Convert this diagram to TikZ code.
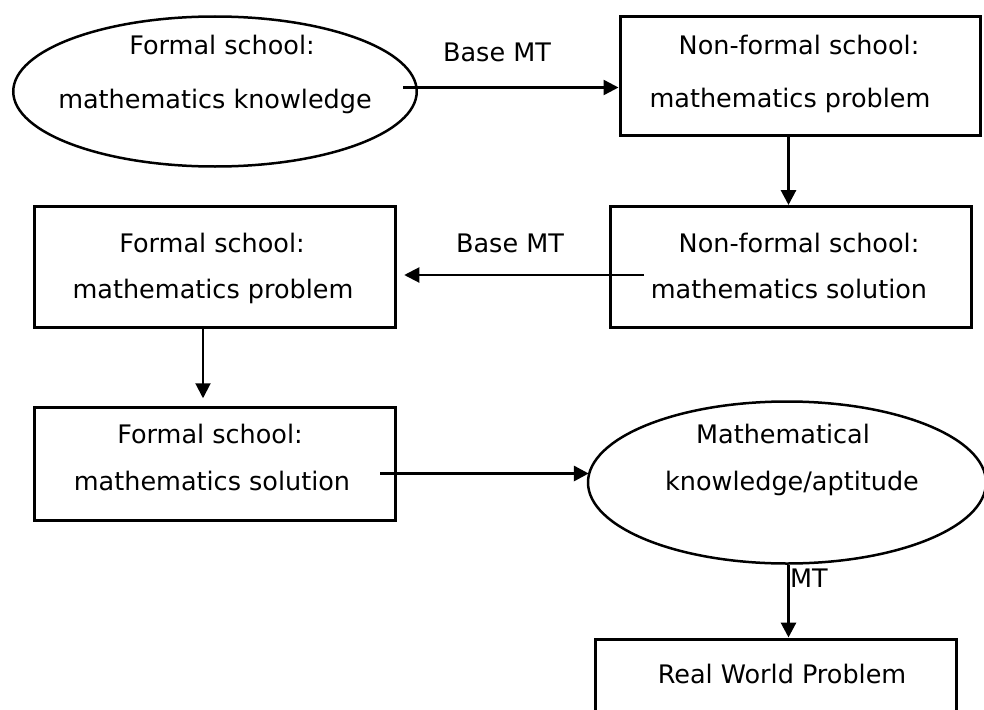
\documentclass[tikz,border=0pt]{standalone}
\usepackage{fontspec}
\setmainfont{DejaVu Sans}
\usetikzlibrary{shapes.geometric,arrows.meta}
\begin{document}
\begin{tikzpicture}[x=1pt,y=-1pt,
  txt/.style={anchor=base,inner sep=0pt,font=\fontsize{25.5}{30}\selectfont},
  boxnode/.style={draw,line width=3pt,rectangle,inner sep=0pt},
  ellnode/.style={draw,line width=2.5pt,ellipse,inner sep=0pt},
  arr/.style={-{Triangle[length=15pt,width=15pt]}},
  thickarr/.style={arr,line width=3pt},
  thinarr/.style={arr,line width=2pt},
]
\useasboundingbox (0,0) rectangle (984,709);
\clip (0,0) rectangle (984,709);
% shapes
\node[ellnode,minimum width=403.5pt,minimum height=150pt] (e1) at (215,91.5) {};
\node[boxnode,minimum width=360pt,minimum height=119.5pt] (nfp) at (800,76) {};
\node[boxnode,minimum width=361.5pt,minimum height=121pt] (nfs) at (791,267) {};
\node[boxnode,minimum width=361.5pt,minimum height=121.5pt] (fp) at (215,267) {};
\node[boxnode,minimum width=361.5pt,minimum height=112.5pt] (fs) at (215,464) {};
\node[ellnode,minimum width=398pt,minimum height=162pt] (e2) at (787,482.5) {};
\node[boxnode,minimum width=360.5pt,minimum height=100pt] (rwp) at (776,689) {};
% texts
\node[txt] (e1a) at (222,55) {Formal school:};
\node[txt] (e1b) at (215,108) {mathematics knowledge};
\node[txt] (bm1) at (497,62) {Base MT};
\node[txt] (nfpa) at (799,55) {Non-formal school:};
\node[txt] (nfpb) at (790,107) {mathematics problem};
\node[txt] (nfsa) at (799,252) {Non-formal school:};
\node[txt] (nfsb) at (789,298) {mathematics solution};
\node[txt] (bm2) at (510,252) {Base MT};
\node[txt] (fpa) at (212,252) {Formal school:};
\node[txt] (fpb) at (213,298) {mathematics problem};
\node[txt] (fsa) at (210,443) {Formal school:};
\node[txt] (fsb) at (212,490) {mathematics solution};
\node[txt] (e2a) at (783,443) {Mathematical};
\node[txt] (e2b) at (792,490) {knowledge/aptitude};
\node[txt,anchor=base west] (mt) at (790,587) {MT};
\node[txt] (rwpa) at (782,683) {Real World Problem};
% connectors
\coordinate (a1s) at (403,87.5);
\draw[thickarr,line width=2.5pt] (a1s) -- (a1s -| nfp.west);
\draw[thickarr] ([xshift=-11.5pt]nfp.south) -- ([xshift=-11.5pt]nfp.south |- nfs.north);
\coordinate (a3s) at (644,275);
\draw[thinarr,shorten >=7pt] (a3s) -- (a3s -| fp.east);
\draw[thinarr,shorten >=8pt] ([xshift=-12pt]fp.south) -- ([xshift=-12pt]fp.south |- fs.north);
\coordinate (a5s) at (380,473.5);
\draw[thickarr,line width=3.3pt,shorten >=-2pt] (a5s) -- (a5s -| e2.west);
\draw[thickarr] ([xshift=1.5pt]e2.south) -- ([xshift=1.5pt]e2.south |- rwp.north);
\end{tikzpicture}
\end{document}
